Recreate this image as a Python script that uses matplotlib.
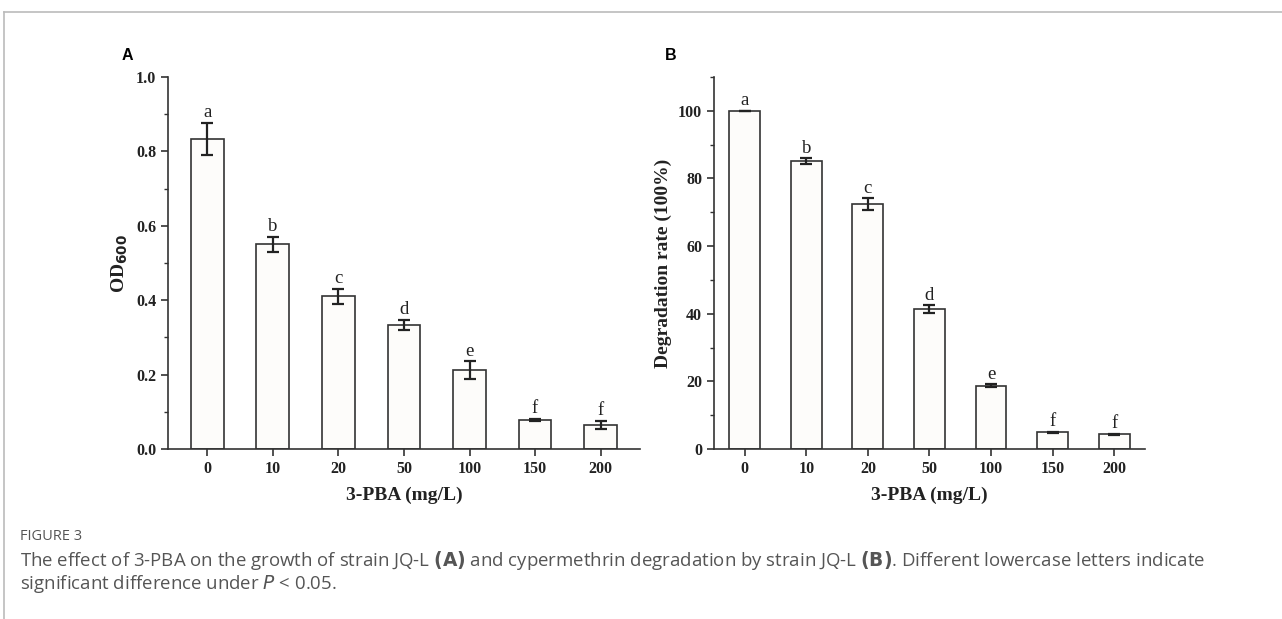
import numpy as np
import matplotlib.pyplot as plt
from matplotlib.ticker import MultipleLocator

# data
conc = ["0", "10", "20", "50", "100", "150", "200"]
od600 = [0.834, 0.550, 0.410, 0.334, 0.212, 0.078, 0.065]
od600_err = [0.043, 0.021, 0.021, 0.014, 0.024, 0.003, 0.011]
degr = [100.0, 85.2, 72.5, 41.3, 18.7, 4.9, 4.3]
degr_err = [0.0, 0.8, 1.7, 1.2, 0.4, 0.2, 0.2]
letters = ["a", "b", "c", "d", "e", "f", "f"]

SERIF = "Liberation Serif"
EDGE = "#333333"


def draw_panel(ax, vals, errs, ylim, major, minor, ylabel, xlim, pad):
    x = np.arange(len(conc))
    ax.bar(x, vals, 0.5, color="#fdfcfa", edgecolor=EDGE, linewidth=1.2, zorder=2)
    ax.errorbar(x, vals, yerr=errs, fmt="none", ecolor="#222222",
                elinewidth=1.6, capsize=4, capthick=1.6, zorder=3)
    for xi, v, e, lab in zip(x, vals, errs, letters):
        ax.text(xi, v + e + pad, lab, ha="center", va="bottom",
                family=SERIF, fontsize=13.5, color="#222222")
    ax.set_xlim(*xlim)
    ax.set_ylim(*ylim)
    ax.yaxis.set_major_locator(MultipleLocator(major))
    ax.yaxis.set_minor_locator(MultipleLocator(minor))
    ax.set_xticks(x, conc)
    for s in ["top", "right"]:
        ax.spines[s].set_visible(False)
    for s in ["left", "bottom"]:
        ax.spines[s].set_linewidth(1.2)
        ax.spines[s].set_color(EDGE)
    ax.tick_params(axis="both", which="major", direction="out", length=5,
                   width=1.2, color=EDGE, labelsize=11.5)
    ax.tick_params(axis="y", which="minor", direction="out", length=3,
                   width=1.0, color=EDGE)
    for t in ax.get_xticklabels() + ax.get_yticklabels():
        t.set_family(SERIF)
        t.set_fontweight("bold")
        t.set_color("#222222")
    ax.set_xlabel("3-PBA (mg/L)", family=SERIF, fontweight="bold",
                  fontsize=14, color="#222222", labelpad=7)
    ax.set_ylabel(ylabel, family=SERIF, fontweight="bold", fontsize=14,
                  color="#222222", labelpad=4)


fig = plt.figure(figsize=(12.82, 6.19), dpi=100)

axA = fig.add_axes([0.1310, 0.2746, 0.3682, 0.6010])
draw_panel(axA, od600, od600_err, (0, 1.0), 0.2, 0.1, r"OD$_{\mathbf{600}}$",
           (-0.6, 6.6), 0.004)

axB = fig.add_axes([0.5569, 0.2746, 0.3362, 0.6010])
draw_panel(axB, degr, degr_err, (0, 110), 20, 10, "Degradation rate (100%)",
           (-0.5, 6.5), 0.4)

# panel letters
fig.text(122 / 1282, 1 - 56 / 619, "A", family="Liberation Sans",
         fontweight="bold", fontsize=11.5, ha="left", va="center")
fig.text(665 / 1282, 1 - 56 / 619, "B", family="Liberation Sans",
         fontweight="bold", fontsize=11.5, ha="left", va="center")

# frame lines of the figure box
fig.add_artist(plt.Line2D([4 / 1282, 1], [1 - 12 / 619, 1 - 12 / 619],
                          color="#bbbbbb", linewidth=1.2))
fig.add_artist(plt.Line2D([4 / 1282, 4 / 1282], [0, 1 - 12 / 619],
                          color="#bbbbbb", linewidth=1.2))

# caption
fig.text(20 / 1282, 1 - 536 / 619, "FIGURE 3", family="Open Sans",
         fontsize=10.5, color="#555555", va="center")
fig.text(20 / 1282, 1 - 561 / 619,
         "The effect of 3-PBA on the growth of strain JQ-L $\\bf{(A)}$ and cypermethrin "
         "degradation by strain JQ-L $\\bf{(B)}$. Different lowercase letters indicate",
         family="Open Sans", fontsize=13.4, color="#555555", va="center")
fig.text(20 / 1282, 1 - 584 / 619,
         "significant difference under $\\it{P}$ < 0.05.",
         family="Open Sans", fontsize=13.4, color="#555555", va="center")

fig.savefig("out.png", dpi=100)
